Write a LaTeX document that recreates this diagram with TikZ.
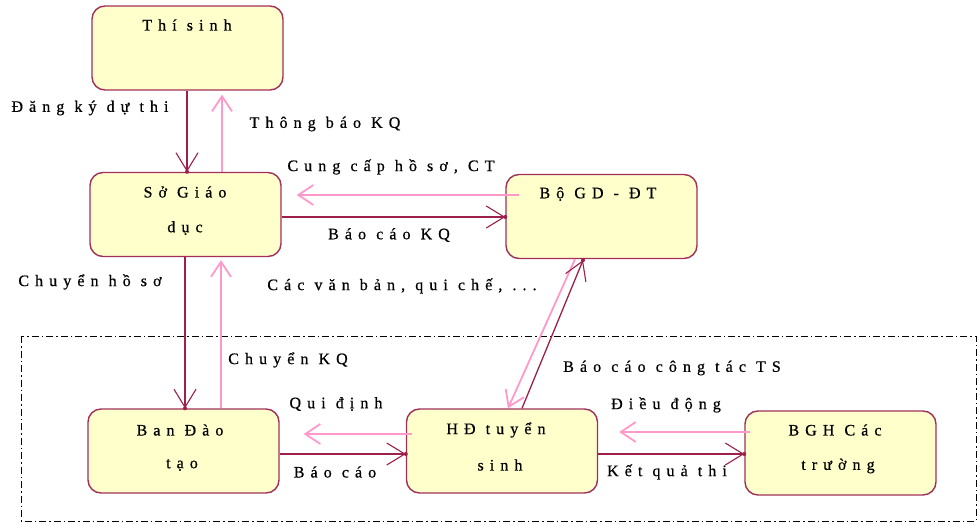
\documentclass[tikz,border=0pt]{standalone}
\usepackage{fontspec}
\setmainfont{Liberation Serif}[LetterSpace=38,FakeBold=0.6]
\usetikzlibrary{arrows.meta}
\definecolor{boxfill}{HTML}{FFFFCC}
\definecolor{boxline}{HTML}{A0305A}
\definecolor{darkflow}{HTML}{9C1F4C}
\definecolor{pinkflow}{HTML}{FF99CC}
\newcommand{\lblfont}{\fontsize{16}{19}\selectfont}
\tikzset{
  box/.style={draw=boxline, fill=boxfill, line width=1.4pt, rounded corners=13pt,
    minimum width=191pt, minimum height=84pt, inner sep=0pt},
  txt/.style={inner sep=0pt, font=\lblfont, text=black},
  dk/.style={draw=darkflow, line width=1.3pt,
    -{Straight Barb[length=18pt,width=22pt,line width=1.1pt]}},
  pk/.style={draw=pinkflow, line width=1.8pt,
    -{Straight Barb[length=15pt,width=20pt,line width=1.8pt]}},
  dotmark/.style={circle, fill=darkflow, inner sep=0pt, minimum size=4pt},
  frame/.style={draw=black, line width=1pt, dash pattern=on 7pt off 3pt on 1.5pt off 3pt},
}
\begin{document}
\begin{tikzpicture}[x=1pt,y=-1pt]
\useasboundingbox (0,0) rectangle (978,524);
\fill[white] (0,0) rectangle (978,524);

% boundary of the local exam council
\draw[frame] (21,336) rectangle (976,521);

% boxes
\node[box] (ts)  at (187.5,48)  {};
\node[box] (so)  at (185.5,214.5) {};
\node[box] (bo)  at (601.5,216.5) {};
\node[box] (ban) at (183.5,451) {};
\node[box] (hd)  at (502,451) {};
\node[box] (bgh) at (840.5,453) {};

% box captions
\node[txt] (tsA)  at (187,25)  {Thí sinh};
\node[txt] (soA)  at (185,192) {Sở Giáo};
\node[txt] (soB)  at (185,228) {dục};
\node[txt] (boA)  at (598,194) {Bộ GD - ĐT};
\node[txt] (banA) at (180,430) {Ban Đào};
\node[txt] (banB) at (182,465) {tạo};
\node[txt] (hdA)  at (496,430) {HĐ tuyển};
\node[txt] (hdB)  at (500,465) {sinh};
\node[txt] (bghA) at (835,430) {BGH Các};
\node[txt] (bghB) at (838,466) {trường};

% flows between boxes
\draw[dk] ([xshift=-0.5pt]ts.south) -- ([xshift=-0.5pt]ts.south |- so.north) node[dotmark] (d1) {};
\draw[pk, shorten >=4pt] ([xshift=36.5pt]so.north) -- ([xshift=36.5pt]so.north |- ts.south);
\draw[pk, shorten >=15pt] ([xshift=14pt,yshift=21.5pt]bo.west) -- ([yshift=19.5pt]so.east);
\draw[dk] ([yshift=-2.5pt]so.east) -- ([yshift=-2.5pt]so.east -| bo.west) node[dotmark] (d2) {};
\draw[dk] ([xshift=-0.5pt]so.south) -- ([xshift=-0.5pt]so.south |- ban.north) node[dotmark] (d3) {};
\draw[pk, shorten >=3pt] ([xshift=37.5pt]ban.north) -- ([xshift=37.5pt]ban.north |- so.south);
\draw[pk, shorten >=24pt] ([xshift=6.5pt,yshift=17pt]hd.west) -- ([yshift=17pt]ban.east);
\draw[dk] ([yshift=-3pt]ban.east) -- ([yshift=-3pt]hd.west) node[dotmark] (d4) {};
\draw[pk, shorten >=21pt] ([xshift=6pt,yshift=21pt]bgh.west) -- ([yshift=19pt]hd.east);
\draw[dk] ([yshift=-3pt]hd.east) -- ([yshift=-3pt]hd.east -| bgh.west) node[dotmark] (d5) {};
\draw[pk] ([xshift=-26.5pt]bo.south) -- ([xshift=6pt]hd.north);
\draw[dk] ([xshift=20pt]hd.north) -- ([xshift=-18.5pt,yshift=-1pt]bo.south) node[dotmark] (d6) {};

% flow labels
\node[txt] (l1)  at (90,108)  {Đăng ký dự thi};
\node[txt] (l2)  at (325,124) {Thông báo KQ};
\node[txt] (l3)  at (391,167) {Cung cấp hồ sơ, CT};
\node[txt] (l4)  at (389,235) {Báo cáo KQ};
\node[txt] (l5)  at (90,282)  {Chuyển hồ sơ};
\node[txt] (l6)  at (402,286) {Các văn bản, qui chế, ...};
\node[txt] (l7)  at (288,360) {Chuyển KQ};
\node[txt] (l8)  at (672,368) {Báo cáo công tác TS};
\node[txt] (l9)  at (336,404) {Qui định};
\node[txt] (l10) at (666,405) {Điều động};
\node[txt] (l11) at (335,472) {Báo cáo};
\node[txt] (l12) at (667,472) {Kết quả thi};
\end{tikzpicture}
\end{document}
